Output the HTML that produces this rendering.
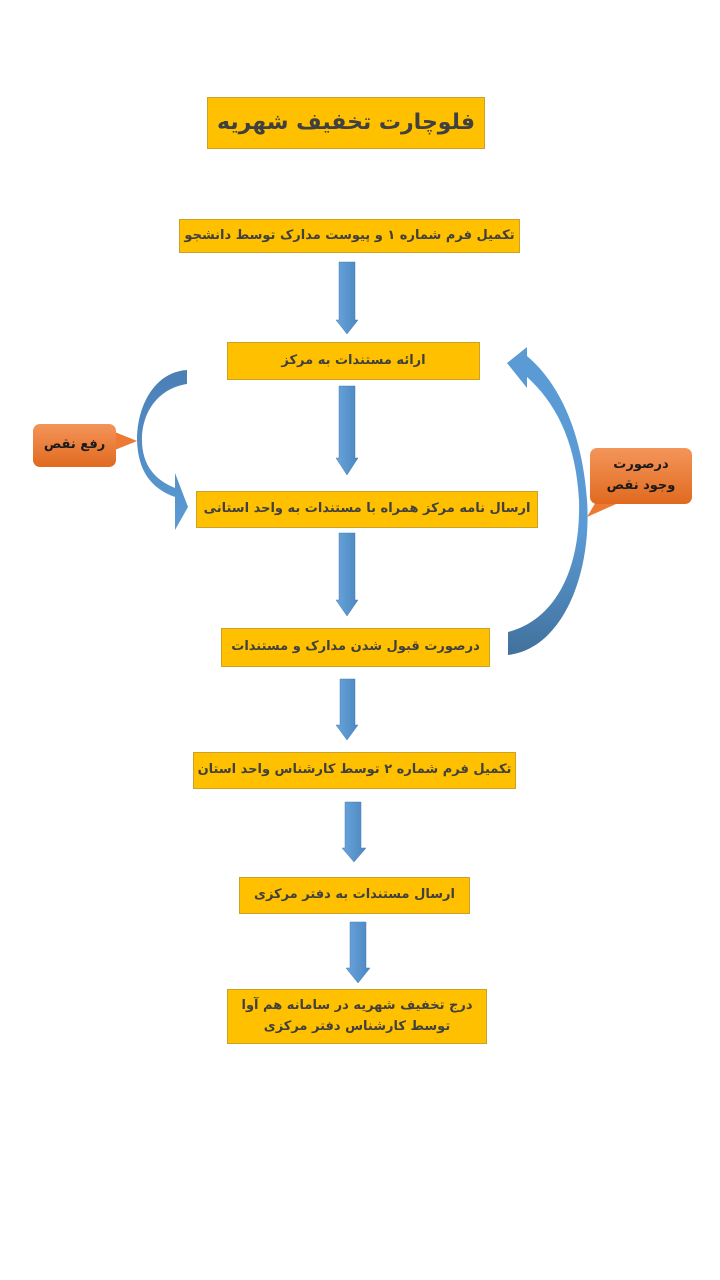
<!DOCTYPE html>
<html><head><meta charset="utf-8"><style>
body{margin:0;width:720px;height:1280px;background:#fff;position:relative;overflow:hidden;font-family:"DejaVu Sans","Liberation Sans",sans-serif;}
.b{position:absolute;background:#ffc000;border:1px solid #c9a227;box-sizing:border-box;display:flex;align-items:center;justify-content:center;text-align:center;color:#404040;font-weight:bold;font-size:13px;direction:rtl;line-height:1.6}
.c{position:absolute;background:linear-gradient(#f4955a,#e06a1f);border-radius:7px;color:#1a1a1a;font-weight:bold;font-size:13px;display:flex;align-items:center;justify-content:center;text-align:center;direction:rtl;line-height:1.6}
svg{position:absolute;left:0;top:0}
</style></head><body>
<svg width="720" height="1280">
<defs>
<linearGradient id="g" x1="0" x2="1"><stop offset="0" stop-color="#6aa5dc"/><stop offset="1" stop-color="#4a86c0"/></linearGradient>
<linearGradient id="g2" x1="0" y1="0" x2="0" y2="1"><stop offset="0" stop-color="#4a7fb5"/><stop offset="1" stop-color="#5b9bd5"/></linearGradient>
<linearGradient id="g3" x1="0" y1="0" x2="0" y2="1"><stop offset="0" stop-color="#5b9bd5"/><stop offset="0.6" stop-color="#5b9bd5"/><stop offset="1" stop-color="#41719c"/></linearGradient>
</defs>
<g fill="url(#g)" stroke="#4a7fb5" stroke-width="0.5">
<path d="M339,262 H355 V320 H358 L347,334 L336,320 H339 Z"/>
<path d="M339,386 H355 V458 H358 L347,475 L336,458 H339 Z"/>
<path d="M339,533 H355 V600 H358 L347,616 L336,600 H339 Z"/>
<path d="M340,679 H355 V725 H358 L347,740 L336,725 H340 Z"/>
<path d="M345,802 H361 V848 H366 L354,862 L342,848 H345 Z"/>
<path d="M350,922 H366 V968 H370 L358,983 L346,968 H350 Z"/>
</g>
<path fill="url(#g2)" d="M187,370 C155,372 137,405 137,440 C138,470 150,488 175,497 L175,530 L188,507 L175,473 L175,488 C155,480 142,465 142,440 C142,410 160,388 187,384 Z"/>
<path fill="url(#g3)" d="M507,363 L527,347 L527,356 C558,382 582,430 587,500 C592,570 565,648 508,655 L508,632 C555,620 581,570 579,500 C576,445 558,405 527,377 L527,388 Z"/>
<path fill="#ec7a32" d="M110,430 L137,441 L110,452 Z"/>
<path fill="#ec7a32" d="M600,495 L587,517 L625,500 Z"/>
</svg>
<div class="b" style="left:207px;top:97px;width:278px;height:52px;font-size:22px">فلوچارت تخفیف شهریه</div>
<div class="b" style="left:179px;top:219px;width:341px;height:34px">تکمیل فرم شماره ۱ و پیوست مدارک توسط دانشجو</div>
<div class="b" style="left:227px;top:342px;width:253px;height:38px">ارائه مستندات به مرکز</div>
<div class="b" style="left:196px;top:491px;width:342px;height:37px">ارسال نامه مرکز همراه با مستندات به واحد استانی</div>
<div class="b" style="left:221px;top:628px;width:269px;height:39px">درصورت قبول شدن مدارک و مستندات</div>
<div class="b" style="left:193px;top:752px;width:323px;height:37px">تکمیل فرم شماره ۲ توسط کارشناس واحد استان</div>
<div class="b" style="left:239px;top:877px;width:231px;height:37px">ارسال مستندات به دفتر مرکزی</div>
<div class="b" style="left:227px;top:989px;width:260px;height:55px">درج  تخفیف شهریه در سامانه هم آوا<br>توسط کارشناس دفتر مرکزی</div>
<div class="c" style="left:33px;top:424px;width:83px;height:43px">رفع نقص</div>
<div class="c" style="left:590px;top:448px;width:102px;height:56px">درصورت<br>وجود نقص</div>
</body></html>
